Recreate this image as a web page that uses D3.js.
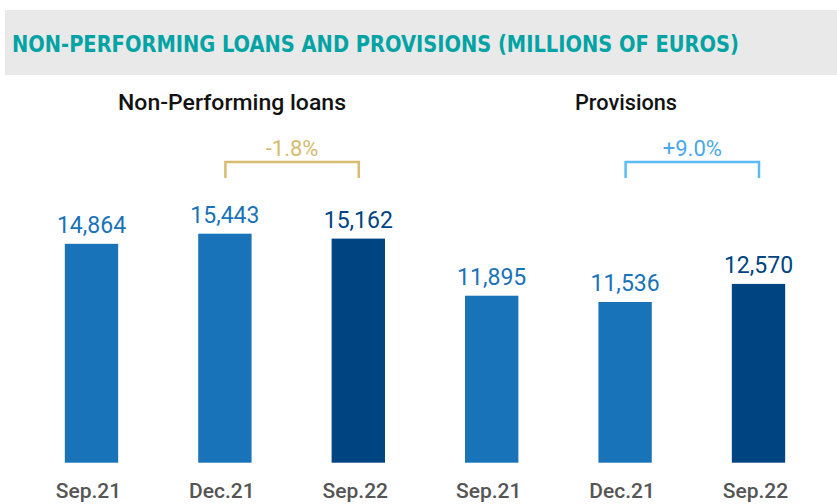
<!DOCTYPE html>
<html>
<head>
<meta charset="utf-8">
<script src="https://cdn.jsdelivr.net/npm/d3@7"></script>
<style>
  html, body { margin: 0; padding: 0; background: #fff; }
  svg { display: block; }
</style>
</head>
<body>
<svg id="chart" width="837" height="504"></svg>
<script>
// ---- data ----
const title = "NON-PERFORMING LOANS AND PROVISIONS (MILLIONS OF EUROS)";
const groups = ["Non-Performing loans", "Provisions"];
const categories = ["Sep.21", "Dec.21", "Sep.22", "Sep.21", "Dec.21", "Sep.22"];
const groupOf = [0, 0, 0, 1, 1, 1];
const values = [14864, 15443, 15162, 11895, 11536, 12570];
const changes = ["-1.8%", "+9.0%"];
const changeFrom = [1, 4];   // bracket start bar index
const changeTo = [2, 5];     // bracket end bar index

// ---- styles ----
const barLight = "#1973b8";
const barDark = "#004481";
const changeColors = ["#d8bd6e", "#5bbcf5"];
const changeTextColors = ["#d6bb6c", "#4aa8e8"];

const svg = d3.select("#chart");
const ids = d3.range(values.length);

const x = d3.scaleBand().domain(ids).range([24.8, 825.2]).paddingInner(0.6).paddingOuter(0.3);
const y = d3.scaleLinear().domain([2340, 15443]).range([462.7, 233.7]);

// header
svg.append("rect").attr("x", 5).attr("y", 10).attr("width", 832).attr("height", 65).attr("fill", "#e9e9e9");
svg.append("text")
  .attr("x", 12).attr("y", 52)
  .attr("font-family", "'Liberation Sans Narrow', 'DejaVu Sans Condensed', Roboto, sans-serif")
  .attr("font-weight", "bold").attr("font-size", 23)
  .attr("textLength", 727).attr("lengthAdjust", "spacingAndGlyphs")
  .attr("fill", "#02a3a4").text(title);

// group labels
const groupCenters = [232, 626];
const groupWidths = [228, 102];
svg.selectAll("text.group").data(groups).join("text")
  .attr("class", "group")
  .attr("x", (d, i) => groupCenters[i]).attr("y", 110)
  .attr("text-anchor", "middle")
  .attr("font-family", "Roboto, sans-serif").attr("font-weight", 500).attr("font-size", 22)
  .attr("textLength", (d, i) => groupWidths[i]).attr("lengthAdjust", "spacingAndGlyphs")
  .attr("fill", "#121212").text(d => d);

// bars
const isLast = i => i === 2 || i === 5;
svg.selectAll("rect.bar").data(ids).join("rect")
  .attr("class", "bar")
  .attr("x", i => x(i)).attr("width", x.bandwidth())
  .attr("y", i => y(values[i])).attr("height", i => y.range()[0] - y(values[i]))
  .attr("fill", i => isLast(i) ? barDark : barLight);

// value labels
const fmt = d3.format(",");
svg.selectAll("text.val").data(ids).join("text")
  .attr("class", "val")
  .attr("x", i => x(i) + x.bandwidth() / 2).attr("y", i => y(values[i]) - 10.5)
  .attr("text-anchor", "middle")
  .attr("font-family", "Roboto, sans-serif").attr("font-weight", 400).attr("font-size", 23)
  .attr("fill", i => isLast(i) ? barDark : barLight)
  .text(i => fmt(values[i]));

// category labels
svg.selectAll("text.cat").data(ids).join("text")
  .attr("class", "cat")
  .attr("x", i => x(i) + x.bandwidth() / 2 - 3).attr("y", 498)
  .attr("text-anchor", "middle")
  .attr("font-family", "Roboto, sans-serif").attr("font-weight", 500).attr("font-size", 21)
  .attr("fill", "#555555").text(i => categories[i]);

// change brackets
changes.forEach((c, k) => {
  const x0 = x(changeFrom[k]) + x.bandwidth() / 2 + 0.5;
  const x1 = x(changeTo[k]) + x.bandwidth() / 2 + 0.5;
  const top = 162, bot = 178;
  svg.append("path")
    .attr("d", d3.line()([[x0, bot], [x0, top], [x1, top], [x1, bot]]))
    .attr("fill", "none").attr("stroke", changeColors[k]).attr("stroke-width", 2.5);
  svg.append("text")
    .attr("x", (x0 + x1) / 2).attr("y", 156)
    .attr("text-anchor", "middle")
    .attr("font-family", "Roboto, sans-serif").attr("font-weight", 400).attr("font-size", 22)
    .attr("fill", changeTextColors[k]).text(c);
});
</script>
</body>
</html>
